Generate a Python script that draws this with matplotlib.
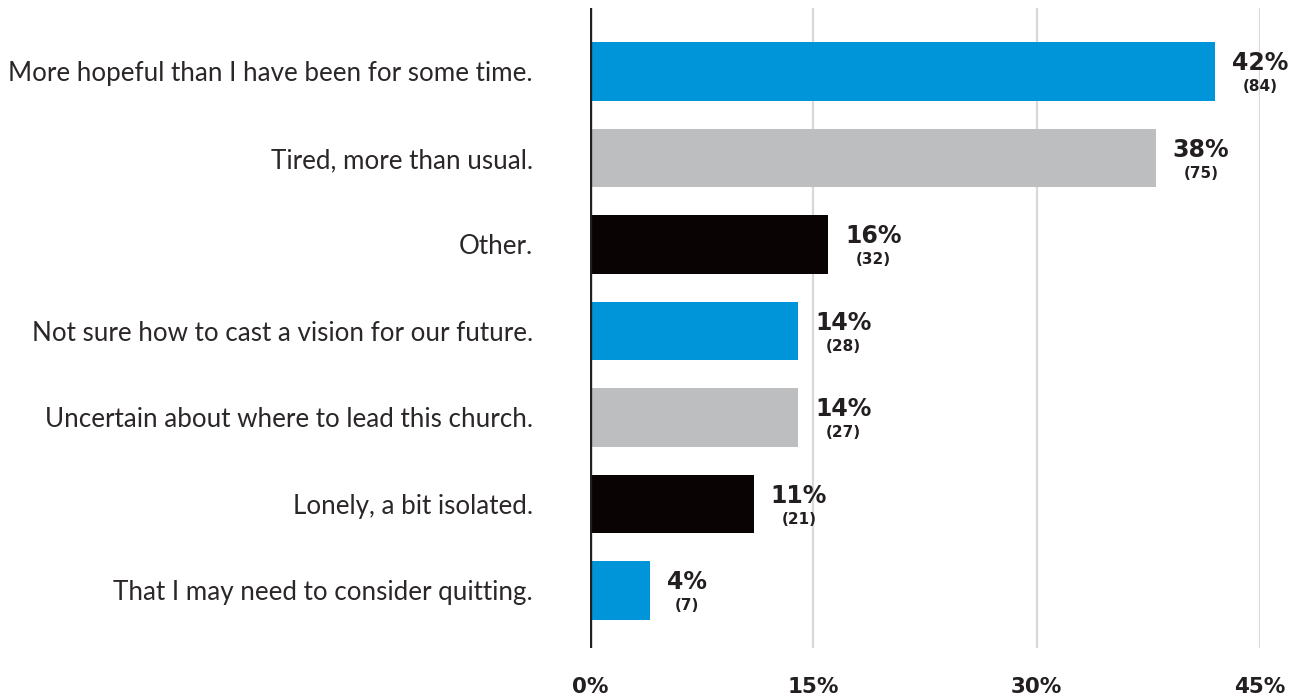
import matplotlib
matplotlib.use("Agg")
import matplotlib.pyplot as plt

# Survey responses (top to bottom)
categories = [
    "More hopeful than I have been for some time.",
    "Tired, more than usual.",
    "Other.",
    "Not sure how to cast a vision for our future.",
    "Uncertain about where to lead this church.",
    "Lonely, a bit isolated.",
    "That I may need to consider quitting.",
]
percents = [42, 38, 16, 14, 14, 11, 4]
counts = [84, 75, 32, 28, 27, 21, 7]
bar_colors = ["#0094d8", "#bcbec0", "#0a0304", "#0094d8", "#bcbec0", "#0a0304", "#0094d8"]
x_ticks = [0, 15, 30, 45]
x_tick_labels = ["0%", "15%", "30%", "45%"]

TEXT = "#231f20"
LABEL_FONT = ["Lato", "DejaVu Sans"]
BOLD_FONT = ["DejaVu Sans"]

fig = plt.figure(figsize=(13.08, 7.0), dpi=100)
ax = fig.add_axes([590 / 1308, 1 - 648 / 700, 670 / 1308, 640 / 700])

y = list(range(len(categories)))
ax.barh(y, percents, height=0.68, color=bar_colors, zorder=3)

ax.set_xlim(0, 45)
ax.set_ylim(6.665, -0.734)

# vertical gridlines
for t in x_ticks[1:]:
    ax.axvline(t, color="#d9d9d9", lw=1.6, zorder=1)
ax.axvline(0, color=TEXT, lw=2.4, zorder=4)

for s in ax.spines.values():
    s.set_visible(False)

ax.set_xticks(x_ticks)
ax.set_xticklabels(x_tick_labels, fontsize=15.5, fontweight="bold", color=TEXT, family=BOLD_FONT)
ax.tick_params(axis="x", length=0, pad=21)

ax.set_yticks(y)
ax.set_yticklabels(categories, fontsize=18.7, fontweight="normal", color="#2b2728", family=LABEL_FONT)
ax.tick_params(axis="y", length=0, pad=41)

# value labels: percentage with count centred beneath
for yi, p, c in zip(y, percents, counts):
    pt = ax.annotate(f"{p}%", xy=(p, yi), xytext=(17, 8), textcoords="offset pixels",
                     ha="left", va="center", fontsize=17, fontweight="bold",
                     color=TEXT, family=BOLD_FONT, zorder=5)
    ax.annotate(f"({c})", xy=(0.5, 0), xycoords=pt, xytext=(0, -4),
                textcoords="offset pixels", ha="center", va="top",
                fontsize=11, fontweight="bold", color=TEXT, family=BOLD_FONT, zorder=5)

fig.savefig("out.png", dpi=100, facecolor="white")
